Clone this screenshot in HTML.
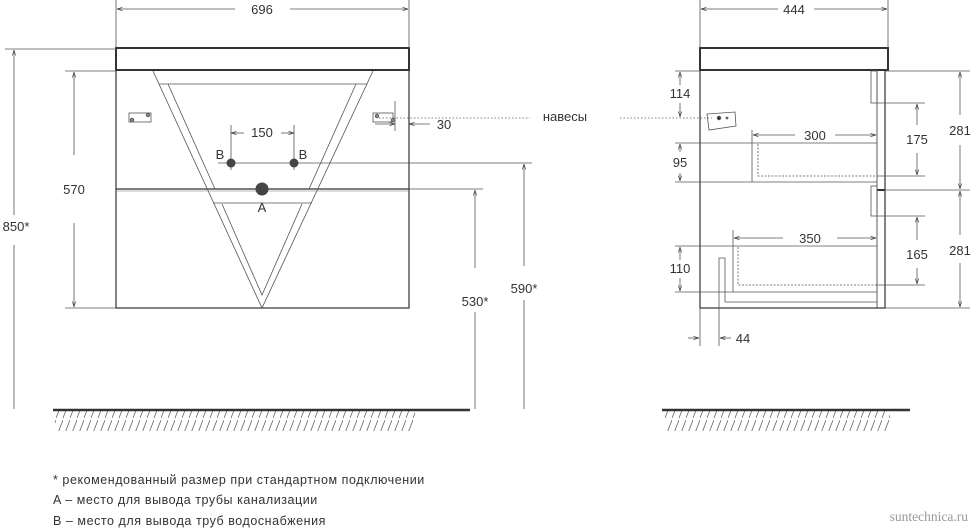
<!DOCTYPE html>
<html><head><meta charset="utf-8"><style>
html,body{margin:0;padding:0;background:#fff}
svg{display:block}
text{font-family:"Liberation Sans",sans-serif;fill:#333}
</style></head><body>
<svg width="970" height="528" viewBox="0 0 970 528" xmlns="http://www.w3.org/2000/svg">
<defs>
<marker id="a" viewBox="0 0 10 10" refX="10" refY="5" markerWidth="7" markerHeight="7" orient="auto-start-reverse"><path d="M0,2 L10,5 L0,8" fill="none" stroke="#444" stroke-width="1.2"/></marker>
<pattern id="h" width="7" height="20" patternUnits="userSpaceOnUse"><line x1="7" y1="0" x2="0" y2="18" stroke="#666" stroke-width="0.8"/></pattern>
</defs>
<g stroke="#555" stroke-width="0.8" fill="none">
<rect x="116" y="48" width="293" height="22" stroke="#333" stroke-width="2"/>
<rect x="116" y="70" width="293" height="238" stroke="#333" stroke-width="1.2"/>
<line x1="116" y1="189" x2="409" y2="189" stroke="#333" stroke-width="1.2"/>
<line x1="116" y1="191" x2="409" y2="191" stroke="#777" stroke-width="0.6"/>
<polyline points="153,71 262,308 373,71"/>
<line x1="159" y1="84" x2="367" y2="84"/>
<line x1="168" y1="84" x2="215" y2="189"/>
<line x1="356" y1="84" x2="309" y2="189"/>
<line x1="213" y1="203" x2="312" y2="203"/>
<polyline points="222,204 262,295 302,204"/>
<rect x="129" y="113" width="22" height="9"/>
<circle cx="132" cy="120" r="1.8" fill="#888"/><circle cx="148" cy="115" r="1.8" fill="#888"/>
<rect x="373" y="113" width="20" height="9"/>
<circle cx="377" cy="116" r="1.8" fill="#888"/><circle cx="393" cy="120" r="1.8" fill="#888"/>
<line x1="379" y1="118" x2="530" y2="118" stroke-dasharray="1.5,2"/>
<line x1="395" y1="101" x2="395" y2="131"/>
<line x1="375" y1="124" x2="395" y2="124" marker-end="url(#a)"/>
<line x1="430" y1="124" x2="409" y2="124" marker-end="url(#a)"/>
<line x1="231" y1="125" x2="231" y2="170"/><line x1="294" y1="125" x2="294" y2="170"/>
<line x1="244" y1="133" x2="231" y2="133" marker-end="url(#a)"/>
<line x1="281" y1="133" x2="294" y2="133" marker-end="url(#a)"/>
<line x1="218" y1="163" x2="532" y2="163"/>
<line x1="409" y1="189" x2="483" y2="189"/>
<line x1="116" y1="0" x2="116" y2="48"/><line x1="409" y1="0" x2="409" y2="48"/>
<line x1="235" y1="9" x2="117" y2="9" marker-end="url(#a)"/>
<line x1="290" y1="9" x2="408" y2="9" marker-end="url(#a)"/>
<line x1="5" y1="49" x2="116" y2="49"/>
<line x1="14" y1="215" x2="14" y2="50" marker-end="url(#a)"/>
<line x1="14" y1="245" x2="14" y2="409"/>
<line x1="65" y1="71" x2="116" y2="71"/><line x1="65" y1="308" x2="116" y2="308"/>
<line x1="74" y1="155" x2="74" y2="72" marker-end="url(#a)"/>
<line x1="74" y1="223" x2="74" y2="307" marker-end="url(#a)"/>
<line x1="475" y1="268" x2="475" y2="190" marker-end="url(#a)"/>
<line x1="475" y1="312" x2="475" y2="409"/>
<line x1="524" y1="266" x2="524" y2="164" marker-end="url(#a)"/>
<line x1="524" y1="300" x2="524" y2="409"/>
<rect x="55" y="411" width="360" height="20" fill="url(#h)" stroke="none"/>
<line x1="53" y1="410" x2="470" y2="410" stroke="#333" stroke-width="2.5"/>
<rect x="665" y="411" width="225" height="20" fill="url(#h)" stroke="none"/>
<line x1="662" y1="410" x2="910" y2="410" stroke="#333" stroke-width="2.5"/>

<rect x="700" y="48" width="188" height="22" stroke="#333" stroke-width="2"/>
<rect x="700" y="70" width="185" height="238" stroke="#333" stroke-width="1.2"/>
<line x1="877" y1="71" x2="877" y2="308" stroke="#333"/>
<line x1="877" y1="190" x2="885" y2="190" stroke="#333" stroke-width="2"/>
<rect x="871" y="71" width="6" height="32"/>
<rect x="871" y="186" width="6" height="30"/>
<polygon points="707,114 735,112 736,126 709,130"/>
<circle cx="719" cy="118" r="1.8" fill="#333"/><circle cx="727" cy="118" r="1" fill="#888"/>
<line x1="620" y1="118" x2="712" y2="118" stroke-dasharray="1.5,2"/>
<line x1="752" y1="143" x2="877" y2="143"/>
<line x1="752" y1="130" x2="752" y2="182"/>
<line x1="675" y1="182" x2="877" y2="182"/>
<line x1="675" y1="143" x2="752" y2="143"/>
<polyline points="758,144 758,176 877,176" stroke-dasharray="2,1.5"/>
<line x1="877" y1="176" x2="925" y2="176"/>
<line x1="795" y1="135" x2="753" y2="135" marker-end="url(#a)"/>
<line x1="835" y1="135" x2="876" y2="135" marker-end="url(#a)"/>
<line x1="675" y1="71" x2="700" y2="71"/>
<line x1="680" y1="85" x2="680" y2="72" marker-end="url(#a)"/>
<line x1="680" y1="103" x2="680" y2="117" marker-end="url(#a)"/>
<line x1="680" y1="152" x2="680" y2="144" marker-end="url(#a)"/>
<line x1="680" y1="173" x2="680" y2="181" marker-end="url(#a)"/>
<line x1="877" y1="103" x2="925" y2="103"/>
<line x1="917" y1="125" x2="917" y2="104" marker-end="url(#a)"/>
<line x1="917" y1="153" x2="917" y2="175" marker-end="url(#a)"/>
<line x1="885" y1="71" x2="970" y2="71"/><line x1="885" y1="190" x2="970" y2="190"/><line x1="885" y1="308" x2="970" y2="308"/>
<line x1="960" y1="115" x2="960" y2="72" marker-end="url(#a)"/>
<line x1="960" y1="145" x2="960" y2="189" marker-end="url(#a)"/>
<line x1="960" y1="235" x2="960" y2="191" marker-end="url(#a)"/>
<line x1="960" y1="263" x2="960" y2="307" marker-end="url(#a)"/>
<line x1="675" y1="246" x2="877" y2="246"/>
<line x1="733" y1="230" x2="733" y2="292"/>
<line x1="675" y1="292" x2="877" y2="292"/>
<polyline points="738,247 738,285 877,285" stroke-dasharray="2,1.5"/>
<line x1="877" y1="285" x2="925" y2="285"/>
<line x1="877" y1="216" x2="925" y2="216"/>
<line x1="783" y1="238" x2="734" y2="238" marker-end="url(#a)"/>
<line x1="837" y1="238" x2="876" y2="238" marker-end="url(#a)"/>
<line x1="917" y1="240" x2="917" y2="217" marker-end="url(#a)"/>
<line x1="917" y1="268" x2="917" y2="284" marker-end="url(#a)"/>
<line x1="680" y1="260" x2="680" y2="247" marker-end="url(#a)"/>
<line x1="680" y1="278" x2="680" y2="291" marker-end="url(#a)"/>
<polyline points="719,346 719,258 725,258 725,302 877,302"/>
<line x1="700" y1="308" x2="700" y2="346"/>
<line x1="688" y1="338" x2="699" y2="338" marker-end="url(#a)"/>
<line x1="731" y1="338" x2="720" y2="338" marker-end="url(#a)"/>
<line x1="700" y1="0" x2="700" y2="48"/><line x1="888" y1="0" x2="888" y2="48"/>
<line x1="778" y1="9" x2="701" y2="9" marker-end="url(#a)"/>
<line x1="814" y1="9" x2="887" y2="9" marker-end="url(#a)"/>
</g>
<g fill="#444" stroke="none">
<circle cx="231" cy="163" r="4.5"/><circle cx="294" cy="163" r="4.5"/>
<circle cx="262" cy="189" r="6.5"/>
</g>
<g font-size="13" text-anchor="middle">
<text x="262" y="14">696</text>
<text x="794" y="14">444</text>
<text x="262" y="137">150</text>
<text x="220" y="159">B</text><text x="303" y="159">B</text>
<text x="262" y="212">A</text>
<text x="444" y="129">30</text>
<text x="565" y="121">навесы</text>
<text x="74" y="194">570</text>
<text x="16" y="231">850*</text>
<text x="475" y="306">530*</text>
<text x="524" y="293">590*</text>
<text x="680" y="98">114</text>
<text x="680" y="167">95</text>
<text x="680" y="273">110</text>
<text x="815" y="140">300</text>
<text x="810" y="243">350</text>
<text x="917" y="144">175</text>
<text x="917" y="259">165</text>
<text x="960" y="135">281</text>
<text x="960" y="255">281</text>
<text x="743" y="343">44</text>
</g>
<g font-size="12.5" style="letter-spacing:0.55px">
<text x="53" y="484">* рекомендованный размер при стандартном подключении</text>
<text x="53" y="504">A – место для вывода трубы канализации</text>
<text x="53" y="525">B – место для вывода труб водоснабжения</text>
</g>
<text x="968" y="521" font-size="13.5" text-anchor="end" style="font-family:'Liberation Serif',serif;fill:#999">suntechnica.ru</text>
</svg>
</body></html>
